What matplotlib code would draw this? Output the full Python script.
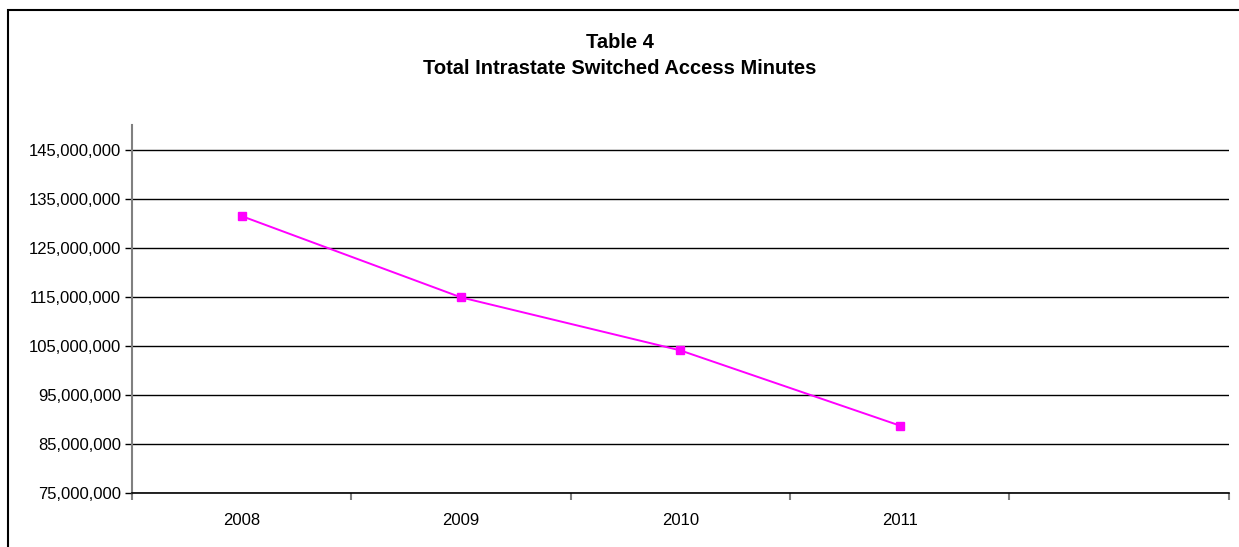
import matplotlib

matplotlib.use("Agg")
import matplotlib.pyplot as plt
from matplotlib.patches import Rectangle
from matplotlib.ticker import FuncFormatter

# Category slots along the x axis (last slot left empty)
years = ["2008", "2009", "2010", "2011", ""]
minutes = [131_450_000, 114_900_000, 104_100_000, 88_800_000]

y_ticks = [75_000_000, 85_000_000, 95_000_000, 105_000_000,
           115_000_000, 125_000_000, 135_000_000, 145_000_000]

plt.rcParams["font.family"] = ["Liberation Sans", "DejaVu Sans"]

W, H = 1239, 547
fig = plt.figure(figsize=(W / 100, H / 100), dpi=100)

# outer chart frame
fig.patches.append(Rectangle((8 / W, -0.1), 1.2, (H - 10) / H + 0.1,
                             transform=fig.transFigure, fill=False,
                             edgecolor="black", linewidth=1.5))

ax = fig.add_axes([132 / W, (H - 493.3) / H,
                   (1228.7 - 132) / W, (493.3 - 125) / H])

x = list(range(len(minutes)))
ax.plot(x, minutes, color="#FF00FF", linewidth=1.4, marker="s",
        markersize=6, markerfacecolor="#FF00FF", markeredgecolor="#FF00FF",
        zorder=3)

ax.set_xlim(-0.5, len(years) - 0.5)
ax.set_ylim(75_000_000, 150_000_000)

ax.set_yticks(y_ticks)
ax.yaxis.set_major_formatter(FuncFormatter(lambda v, _: f"{v:,.0f}"))
ax.grid(axis="y", color="black", linewidth=1.0)
ax.set_axisbelow(True)

# category boundaries get tick marks, labels sit in the middle of each slot
ax.set_xticks([i - 0.5 for i in range(len(years) + 1)])
ax.set_xticklabels([])
ax.set_xticks(range(len(years)), minor=True)
ax.set_xticklabels(years, minor=True)
ax.tick_params(axis="x", which="minor", length=0, pad=14, labelsize=12)
ax.tick_params(axis="x", which="major", length=5, width=1.5, color="#808080")
ax.tick_params(axis="y", length=5, width=1.0, color="black", labelsize=12,
               pad=3)

for side in ("top", "right"):
    ax.spines[side].set_visible(False)
ax.spines["left"].set_color("#808080")
ax.spines["left"].set_linewidth(1.5)
ax.spines["bottom"].set_color("black")
ax.spines["bottom"].set_linewidth(1.2)

fig.text(0.5, 1 - 47.5 / H, "Table 4", ha="center", va="baseline",
         fontsize=14.5, fontweight="bold")
fig.text(0.5, 1 - 74 / H, "Total Intrastate Switched Access Minutes",
         ha="center", va="baseline", fontsize=14.5, fontweight="bold")

fig.savefig("out.png", dpi=100)
